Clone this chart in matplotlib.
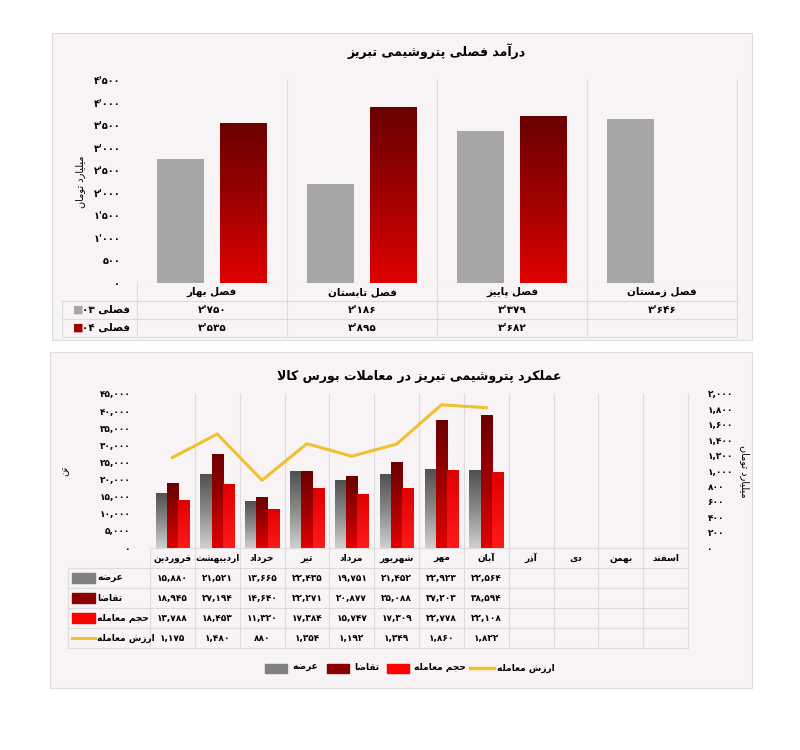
import re
import numpy as np
import matplotlib
matplotlib.use("Agg")
import matplotlib.pyplot as plt
from matplotlib.colors import LinearSegmentedColormap
from matplotlib.ticker import FuncFormatter, MultipleLocator
from matplotlib.patches import Rectangle

plt.rcParams['font.family'] = ['DejaVu Sans']
plt.rcParams['font.weight'] = 'bold'

# ---------------- data ----------------
seasons = ['فصل بهار', 'فصل تابستان', 'فصل پاییز', 'فصل زمستان']
season_03 = [2750, 2186, 3379, 3646]
season_04 = [3535, 3895, 3682, None]
series_top = ['فصلی ۰۳', 'فصلی ۰۴']

months = ['فروردین', 'اردیبهشت', 'خرداد', 'تیر', 'مرداد', 'شهریور', 'مهر', 'آبان',
          'آذر', 'دی', 'بهمن', 'اسفند']
supply = [15880, 21521, 13665, 22435, 19751, 21452, 22923, 22564]
demand = [18945, 27194, 14640, 22271, 20877, 25088, 37203, 38594]
volume = [13788, 18453, 11320, 17384, 15747, 17309, 22778, 22108]
value = [1175, 1480, 880, 1354, 1192, 1349, 1860, 1822]
series_bot = ['عرضه', 'تقاضا', 'حجم معامله', 'ارزش معامله']

title_top = 'درآمد فصلی پتروشیمی تبریز'
title_bot = 'عملکرد پتروشیمی تبریز در معاملات بورس کالا'
ylabel_money = 'میلیارد تومان'
ylabel_ton = 'تن'

# ---------------- simple Persian shaping ----------------
F = {}
def _d(ch, a): F[ch] = (a, a + 1, a + 2, a + 3)
def _r(ch, a): F[ch] = (a, a + 1, None, None)
for ch, a in [('ب', 0xFE8F), ('ت', 0xFE95), ('ث', 0xFE99), ('ج', 0xFE9D), ('ح', 0xFEA1),
              ('خ', 0xFEA5), ('س', 0xFEB1), ('ش', 0xFEB5), ('ص', 0xFEB9), ('ض', 0xFEBD),
              ('ط', 0xFEC1), ('ظ', 0xFEC5), ('ع', 0xFEC9), ('غ', 0xFECD), ('ف', 0xFED1),
              ('ق', 0xFED5), ('ل', 0xFEDD), ('م', 0xFEE1), ('ن', 0xFEE5), ('ه', 0xFEE9),
              ('پ', 0xFB56), ('چ', 0xFB7A), ('ک', 0xFB8E), ('گ', 0xFB92), ('ی', 0xFBFC)]:
    _d(ch, a)
for ch, a in [('ا', 0xFE8D), ('آ', 0xFE81), ('د', 0xFEA9), ('ذ', 0xFEAB), ('ر', 0xFEAD),
              ('ز', 0xFEAF), ('و', 0xFEED), ('ژ', 0xFB8A)]:
    _r(ch, a)

def shape(s):
    chars = list(s)
    out = []
    i = 0
    n = len(chars)
    while i < n:
        c = chars[i]
        if c not in F:
            out.append(c); i += 1; continue
        prev = chars[i - 1] if i > 0 else None
        jp = prev in F and F[prev][2] is not None
        if c == 'ل' and i + 1 < n and chars[i + 1] == 'ا':
            out.append(chr(0xFEFC if jp else 0xFEFB)); i += 2; continue
        nxt = chars[i + 1] if i + 1 < n else None
        jn = F[c][2] is not None and nxt in F
        iso, fin, ini, med = F[c]
        if jp and jn: g = med
        elif jp: g = fin
        elif jn: g = ini
        else: g = iso
        out.append(chr(g)); i += 1
    t = ''.join(out)[::-1]
    return re.sub(r'[۰-۹0-9,٬]+', lambda m: m.group(0)[::-1], t)

PD = str.maketrans('0123456789', '۰۱۲۳۴۵۶۷۸۹')
def fa_num(v, sep):
    return f'{int(v):,}'.replace(',', sep).translate(PD)

# ---------------- figure ----------------
fig = plt.figure(figsize=(8, 7.5), dpi=100)
fig.patch.set_facecolor('white')
panel_c = '#f8f4f6'
for (x0, y0, x1, y1) in [(52, 33, 752, 340), (50, 352, 752, 688)]:
    fig.patches.append(Rectangle((x0 / 800, 1 - y1 / 750), (x1 - x0) / 800, (y1 - y0) / 750,
                                 transform=fig.transFigure, facecolor=panel_c,
                                 edgecolor='#dddddd', lw=0.8, zorder=-5))

red_cmap = LinearSegmentedColormap.from_list('r', ['#e00000', '#a00000', '#6a0000'])
bright_cmap = LinearSegmentedColormap.from_list('b', ['#ff1a1a', '#e00000'])
gray_cmap = LinearSegmentedColormap.from_list('g', ['#d0d0d0', '#8a8a8a', '#505050'])
grad = np.linspace(0, 1, 256).reshape(-1, 1)

def gbar(ax, x, w, h, cmap, z=3):
    ax.imshow(grad, extent=[x - w / 2, x + w / 2, 0, h], origin='lower', aspect='auto',
              cmap=cmap, zorder=z)

gridc = '#dcdcdc'
SEP_TOP = "'"

# ---------------- top chart ----------------
ax1 = fig.add_axes([137 / 800, 1 - 283 / 750, 600 / 800, 203 / 750])
ax1.set_facecolor(panel_c)
xs = np.arange(len(seasons))
w = 0.31
for i in xs:
    ax1.bar(i - 0.21, season_03[i], width=w, color='#a6a6a6', zorder=3)
    if season_04[i] is not None:
        gbar(ax1, i + 0.21, w, season_04[i], red_cmap)
ax1.set_xlim(-0.5, 3.5)
ax1.set_ylim(0, 4500)
ax1.yaxis.set_major_locator(MultipleLocator(500))
ax1.yaxis.set_major_formatter(FuncFormatter(lambda v, p: fa_num(v, SEP_TOP)))
ax1.tick_params(axis='y', length=0, labelsize=7, pad=12)
ax1.set_xticks([])
for s in ax1.spines.values():
    s.set_visible(False)
ax1.axhline(0, color=gridc, lw=0.8)
ax1.set_ylabel(shape(ylabel_money), fontsize=7, labelpad=6)
ax1.set_title(shape(title_top), fontsize=9, fontweight='bold', pad=17)
tr1 = ax1.get_xaxis_transform()
rh = 0.088
for xb in [0.5, 1.5, 2.5, 3.5]:
    ax1.plot([xb, xb], [-3 * rh, 1], transform=tr1, color=gridc, lw=0.8, clip_on=False)
ax1.plot([-0.5, -0.5], [-3 * rh, 0], transform=tr1, color=gridc, lw=0.8, clip_on=False)
ax1.plot([-1.0, -1.0], [-3 * rh, -rh], transform=tr1, color=gridc, lw=0.8, clip_on=False)
for yy in [-rh, -2 * rh, -3 * rh]:
    ax1.plot([-1.0, 3.5], [yy, yy], transform=tr1, color=gridc, lw=0.8, clip_on=False)
for i, s in enumerate(seasons):
    ax1.text(i, -rh / 2, shape(s), transform=tr1, ha='center', va='center', fontsize=7.5)
    ax1.text(i, -1.5 * rh, fa_num(season_03[i], SEP_TOP), transform=tr1, ha='center', va='center', fontsize=7.5)
    if season_04[i] is not None:
        ax1.text(i, -2.5 * rh, fa_num(season_04[i], SEP_TOP), transform=tr1, ha='center', va='center', fontsize=7.5)
for k, (lab, c) in enumerate(zip(series_top, ['#a6a6a6', '#a00000'])):
    yc = -(1.5 + k) * rh
    ax1.text(-0.93, yc, '■', transform=tr1, color=c, ha='left', va='center', fontsize=8)
    ax1.text(-0.55, yc, shape(lab), transform=tr1, ha='right', va='center', fontsize=7.5)

# ---------------- bottom chart ----------------
ax2 = fig.add_axes([150 / 800, 1 - 548 / 750, 538 / 800, 154 / 750])
ax2.set_facecolor(panel_c)
nm = len(months)
bw = 0.25
for i in range(len(supply)):
    gbar(ax2, i - bw, bw, supply[i], gray_cmap)
    gbar(ax2, i, bw, demand[i], red_cmap)
    gbar(ax2, i + bw, bw, volume[i], bright_cmap)
ax2.set_xlim(-0.5, nm - 0.5)
ax2.set_ylim(0, 45000)
ax2.yaxis.set_major_locator(MultipleLocator(5000))
ax2.yaxis.set_major_formatter(FuncFormatter(lambda v, p: fa_num(v, ',')))
ax2.tick_params(axis='y', length=0, labelsize=6.5, pad=14)
ax2.set_xticks([])
for s in ax2.spines.values():
    s.set_visible(False)
ax2.set_ylabel(shape(ylabel_ton), fontsize=7, labelpad=22)
ax2.set_title(shape(title_bot), fontsize=9, fontweight='bold', pad=10)
ax3 = ax2.twinx()
ax3.plot(range(len(value)), value, color='#f0c030', lw=2.2, zorder=5)
ax3.set_ylim(0, 2000)
ax3.yaxis.set_major_locator(MultipleLocator(200))
ax3.yaxis.set_major_formatter(FuncFormatter(lambda v, p: fa_num(v, ',')))
ax3.tick_params(axis='y', length=0, labelsize=6.5, pad=14)
for s in ax3.spines.values():
    s.set_visible(False)
ax3.set_ylabel(shape(ylabel_money), fontsize=7, rotation=270, labelpad=12)

tr2 = ax2.get_xaxis_transform()
rh2 = 0.13
for xb in np.arange(-0.5, nm, 1.0):
    ax2.plot([xb, xb], [-5 * rh2, 1.0 if xb > -0.5 else 0], transform=tr2, color=gridc, lw=0.8, clip_on=False)
lx = -0.5 - 1.83
ax2.plot([lx, lx], [-5 * rh2, -rh2], transform=tr2, color=gridc, lw=0.8, clip_on=False)
for k in range(1, 6):
    ax2.plot([lx, nm - 0.5], [-k * rh2] * 2, transform=tr2, color=gridc, lw=0.8, clip_on=False)
ax2.plot([-0.5, nm - 0.5], [0, 0], transform=tr2, color=gridc, lw=0.8, clip_on=False)
for i, m in enumerate(months):
    ax2.text(i, -rh2 / 2, shape(m), transform=tr2, ha='center', va='center', fontsize=6.5)
rows = [supply, demand, volume, value]
for k, row in enumerate(rows):
    for i, v in enumerate(row):
        ax2.text(i, -(1.5 + k) * rh2, fa_num(v, ','), transform=tr2, ha='center', va='center', fontsize=6.5)
colors = ['#808080', '#8a0000', '#ff0000', '#f0c030']
for k, (lab, c) in enumerate(zip(series_bot, colors)):
    yc = -(1.5 + k) * rh2
    if k < 3:
        ax2.add_patch(Rectangle((lx + 0.1, yc - 0.035), 0.5, 0.07, transform=tr2, color=c, clip_on=False))
    else:
        ax2.plot([lx + 0.1, lx + 0.6], [yc, yc], transform=tr2, color=c, lw=2.2, clip_on=False)
    ax2.text(lx + 0.65, yc, shape(lab), transform=tr2, ha='left', va='center', fontsize=6.5)

# legend
leg_y = 1 - 668 / 750
items = [(series_bot[0], '#808080', 'box', 265), (series_bot[1], '#8a0000', 'box', 327),
         (series_bot[2], '#ff0000', 'box', 387), (series_bot[3], '#f0c030', 'line', 470)]
for lab, c, kind, px in items:
    if kind == 'box':
        fig.patches.append(Rectangle((px / 800, leg_y - 0.006), 22 / 800, 0.011,
                                     transform=fig.transFigure, color=c))
    else:
        fig.lines.append(plt.Line2D([px / 800, (px + 24) / 800], [leg_y, leg_y],
                                    transform=fig.transFigure, color=c, lw=2.5))
    fig.text((px + 27) / 800, leg_y, shape(lab), ha='left', va='center', fontsize=6.5)

fig.savefig('out.png', dpi=100, facecolor='white')
